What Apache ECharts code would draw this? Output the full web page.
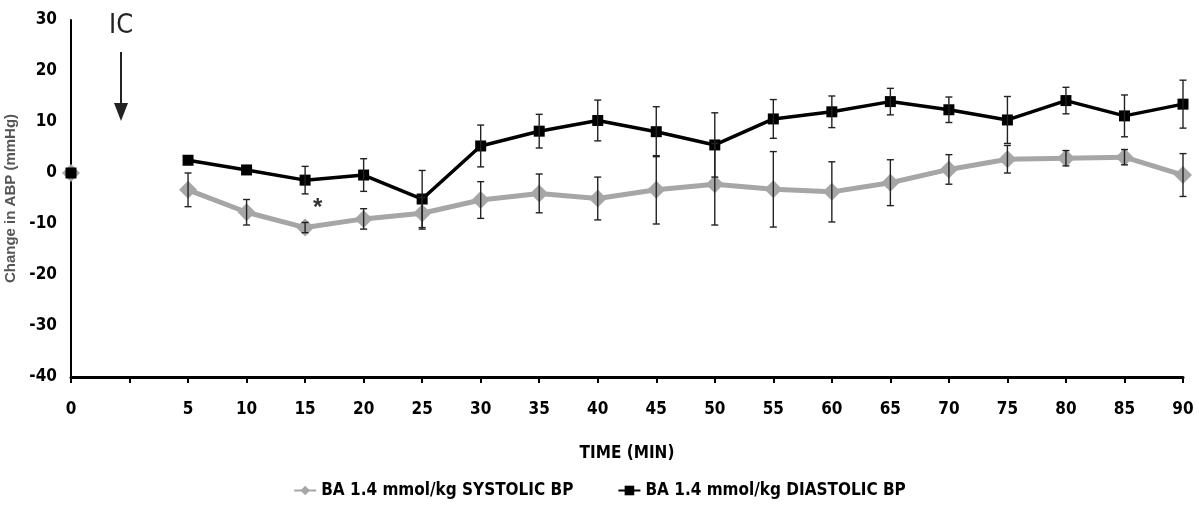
<!DOCTYPE html>
<html><head><meta charset="utf-8">
<script src="https://cdn.jsdelivr.net/npm/echarts@6/dist/echarts.min.js"></script>
<style>html,body{margin:0;padding:0;background:#fff}#c{width:1199px;height:524px}</style>
</head><body><div id="c"></div>
<script>
const categories = ['0','','5','10','15','20','25','30','35','40','45','50','55','60','65','70','75','80','85','90'];
const systolic = [0,null,-3.3,-7.7,-10.7,-9.0,-7.9,-5.3,-4.0,-5.0,-3.3,-2.2,-3.2,-3.7,-1.9,0.7,2.7,2.9,3.1,-0.4];
const systolicErr = [0,null,3.3,2.5,1.0,2.0,3.1,3.6,3.8,4.2,6.7,8.0,7.4,5.9,4.5,2.9,2.7,1.5,1.5,4.2];
const diastolic = [0,null,2.5,0.6,-1.4,-0.4,-5.1,5.3,8.2,10.3,8.1,5.5,10.6,12.0,14.0,12.4,10.4,14.2,11.2,13.5];
const diastolicErr = [0,null,0,0,2.7,3.2,5.6,4.1,3.3,4.0,4.9,6.3,3.8,3.1,2.6,2.5,4.6,2.6,4.1,4.7];
const yTicks = {min:-40, max:30, interval:10};
const sysName = 'BA 1.4 mmol/kg SYSTOLIC BP';
const diaName = 'BA 1.4 mmol/kg DIASTOLIC BP';
const font = '"DejaVu Sans Condensed","Liberation Sans Narrow",sans-serif';

function errData(vals, errs){
  const out=[];
  vals.forEach((v,i)=>{ if(v!==null && errs[i]>0) out.push([i, v-errs[i], v+errs[i]]); });
  return out;
}
function errRender(params, api){
  const x = api.value(0);
  const lo = api.coord([x, api.value(1)]);
  const hi = api.coord([x, api.value(2)]);
  const w = 3.5;
  const st = {stroke:'#222', lineWidth:1.4};
  return {type:'group', children:[
    {type:'line', shape:{x1:lo[0],y1:lo[1],x2:hi[0],y2:hi[1]}, style:st},
    {type:'line', shape:{x1:lo[0]-w,y1:lo[1],x2:lo[0]+w,y2:lo[1]}, style:st},
    {type:'line', shape:{x1:hi[0]-w,y1:hi[1],x2:hi[0]+w,y2:hi[1]}, style:st}
  ]};
}

const chart = echarts.init(document.getElementById('c'));
chart.setOption({
  animation:false,
  grid:{left:71, right:16, top:20, bottom:147, containLabel:false, outerBoundsMode:'none'},
  legend:{
    bottom:20, left:'center', itemGap:44, itemWidth:22, itemHeight:12,
    textStyle:{fontFamily:font, fontSize:17, fontWeight:'bold', color:'#000'},
    data:[sysName, diaName]
  },
  xAxis:{
    type:'category', data:categories, boundaryGap:false,
    name:'TIME (MIN)', nameLocation:'middle', nameGap:68,
    nameTextStyle:{fontFamily:font, fontSize:17, fontWeight:'bold', color:'#000'},
    axisLine:{onZero:false, lineStyle:{color:'#000', width:3}},
    axisTick:{show:true, interval:0, length:6, lineStyle:{color:'#000', width:2}},
    axisLabel:{interval:0, margin:24, fontFamily:font, fontSize:17, fontWeight:'bold', color:'#000'},
    splitLine:{show:false}
  },
  yAxis:{
    type:'value', min:yTicks.min, max:yTicks.max, interval:yTicks.interval,
    name:'Change in ABP (mmHg)', nameLocation:'middle', nameGap:46, nameRotate:90,
    nameTextStyle:{fontFamily:'"Liberation Sans",Arial,sans-serif', fontSize:15, fontWeight:'bold', color:'#555'},
    axisLine:{show:true, lineStyle:{color:'#000', width:2}},
    axisTick:{show:false},
    axisLabel:{margin:14, fontFamily:font, fontSize:17, fontWeight:'bold', color:'#000'},
    splitLine:{show:false}
  },
  series:[
    {name:sysName, type:'line', data:systolic, connectNulls:false,
     symbol:'diamond', symbolSize:18, itemStyle:{color:'#a6a6a6'},
     lineStyle:{color:'#a6a6a6', width:5}, z:2},
    {name:diaName, type:'line', data:diastolic, connectNulls:false,
     symbol:'rect', symbolSize:11, itemStyle:{color:'#000'},
     lineStyle:{color:'#000', width:3.5}, z:3},
    {name:'sysErr', type:'custom', data:errData(systolic, systolicErr), renderItem:errRender, z:4, encode:{x:0,y:[1,2]}},
    {name:'diaErr', type:'custom', data:errData(diastolic, diastolicErr), renderItem:errRender, z:4, encode:{x:0,y:[1,2]}}
  ],
  graphic:[
    {type:'text', left:109, top:12, style:{text:'IC', fontFamily:font, fontSize:27, fill:'#222'}},
    {type:'line', shape:{x1:121,y1:52,x2:121,y2:106}, style:{stroke:'#222', lineWidth:2}},
    {type:'polygon', shape:{points:[[114,103],[128,103],[121,121]]}, style:{fill:'#222'}},
    {type:'text', left:313, top:196, style:{text:'*', fontFamily:'"Liberation Sans",Arial,sans-serif', fontSize:24, fontWeight:'bold', fill:'#333'}}
  ]
});
</script></body></html>
